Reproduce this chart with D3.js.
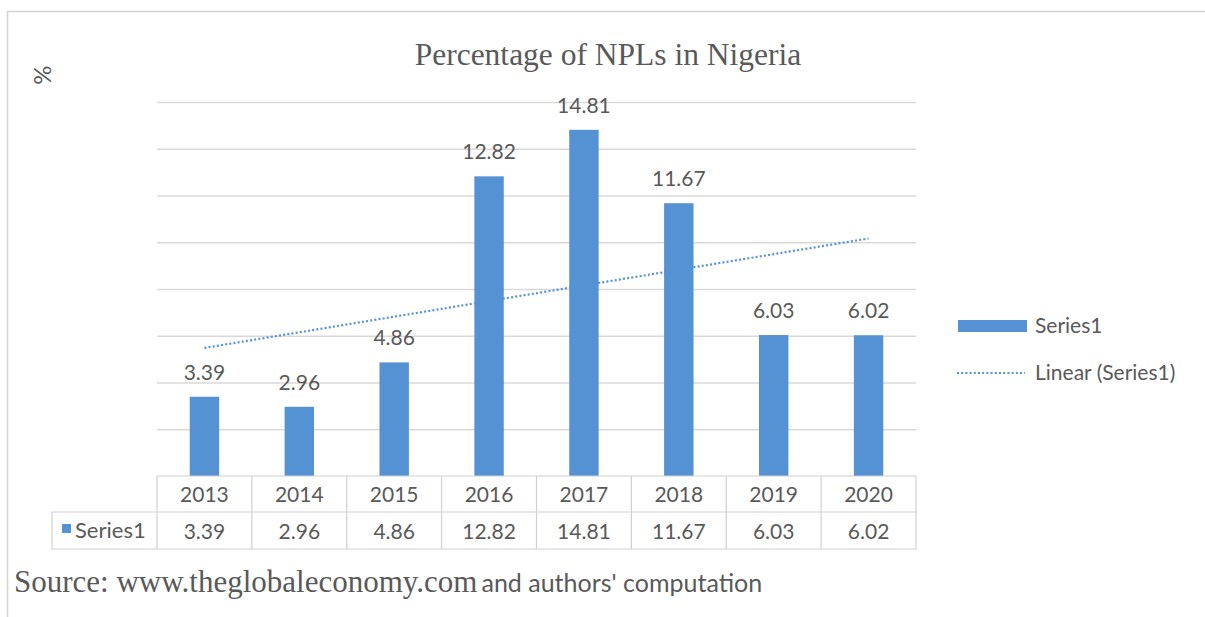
<!DOCTYPE html>
<html><head><meta charset="utf-8">
<script src="https://cdn.jsdelivr.net/npm/d3@7"></script>
<style>
html,body{margin:0;padding:0;background:#fff;}
svg{display:block;}
</style></head>
<body>
<svg id="chart" width="1205" height="617"></svg>
<script>
const categories = ["2013","2014","2015","2016","2017","2018","2019","2020"];
const values = [3.39, 2.96, 4.86, 12.82, 14.81, 11.67, 6.03, 6.02];
const valueLabels = ["3.39","2.96","4.86","12.82","14.81","11.67","6.03","6.02"];
const seriesName = "Series1";
const trendName = "Linear (Series1)";
const titleText = "Percentage of NPLs in Nigeria";
const yAxisTitle = "%";
const sourceSerif = "Source: www.theglobaleconomy.com";
const sourceSans = "and authors' computation";

const BLUE = "#5592d4";
const TXT = "#595959";
const GRID = "#d9d9d9";
const SANS = "Lato, 'Open Sans', sans-serif";
const SERIF = "'Liberation Serif', 'DejaVu Serif', serif";

const svg = d3.select("#chart");

// outer frame
svg.append("path").attr("d","M7.5,617 L7.5,11.5 L1205,11.5")
  .attr("fill","none").attr("stroke","#d4d4d4").attr("stroke-width",1.5);

const x = d3.scaleBand().domain(categories).range([157,916])
  .paddingInner(0.69).paddingOuter(0.345);
const y = d3.scaleLinear().domain([0,16]).range([476,102]);

// gridlines
const grid = svg.append("g").attr("transform","translate(157,0)")
  .call(d3.axisLeft(y).tickValues(d3.range(2,17,2)).tickSize(-759).tickFormat(""));
grid.select(".domain").remove();
grid.selectAll("line").attr("stroke",GRID).attr("stroke-width",1.3);

// bars
svg.append("g").selectAll("rect").data(values).join("rect")
  .attr("x",(d,i)=>x(categories[i]))
  .attr("width",x.bandwidth())
  .attr("y",d=>y(d))
  .attr("height",d=>y(0)-y(d))
  .attr("fill",BLUE);

// data labels
svg.append("g").selectAll("text").data(values).join("text")
  .attr("x",(d,i)=>x(categories[i])+x.bandwidth()/2)
  .attr("y",d=>y(d)-17)
  .attr("text-anchor","middle")
  .attr("font-family",SANS).attr("font-size",21).attr("fill",TXT)
  .text((d,i)=>valueLabels[i]);

// linear trendline (least squares on index)
const n = values.length;
const xs = d3.range(1,n+1);
const mx = d3.mean(xs), my = d3.mean(values);
const slope = d3.sum(xs,(xi,i)=>(xi-mx)*(values[i]-my)) / d3.sum(xs,xi=>(xi-mx)*(xi-mx));
const icpt = my - slope*mx;
const cx = i => x(categories[i])+x.bandwidth()/2;
svg.append("line")
  .attr("x1",cx(0)).attr("y1",y(icpt+slope*1))
  .attr("x2",cx(n-1)).attr("y2",y(icpt+slope*n))
  .attr("stroke",BLUE).attr("stroke-width",2.2).attr("stroke-dasharray","2,2.2");

// title
svg.append("text").attr("x",608).attr("y",65).attr("text-anchor","middle")
  .attr("font-family",SERIF).attr("font-size",31.5).attr("fill",TXT).text(titleText);

// y axis title
svg.append("text").attr("transform","translate(51,75) rotate(-90)")
  .attr("text-anchor","middle").attr("font-family",SANS).attr("font-size",24)
  .attr("fill",TXT).text(yAxisTitle);

// data table
const step = x.step();
const tbl = svg.append("g").attr("stroke","#d0d0d0").attr("stroke-width",1.2).attr("fill","none");
const r0 = 476, r1 = 512, r2 = 549, tl = 52;
tbl.append("line").attr("x1",157).attr("x2",916).attr("y1",r0).attr("y2",r0);
tbl.append("line").attr("x1",tl).attr("x2",916).attr("y1",r1).attr("y2",r1);
tbl.append("line").attr("x1",tl).attr("x2",916).attr("y1",r2).attr("y2",r2);
tbl.append("line").attr("x1",tl).attr("x2",tl).attr("y1",r1).attr("y2",r2);
tbl.selectAll(".v").data(d3.range(0,n+1)).join("line")
  .attr("x1",i=>157+i*step).attr("x2",i=>157+i*step).attr("y1",r0).attr("y2",r2);

svg.append("g").selectAll("text").data(categories).join("text")
  .attr("x",d=>x(d)+x.bandwidth()/2).attr("y",502)
  .attr("text-anchor","middle").attr("font-family",SANS).attr("font-size",21)
  .attr("fill",TXT).text(d=>d);
svg.append("g").selectAll("text").data(valueLabels).join("text")
  .attr("x",(d,i)=>cx(i)).attr("y",539)
  .attr("text-anchor","middle").attr("font-family",SANS).attr("font-size",21)
  .attr("fill",TXT).text(d=>d);
svg.append("rect").attr("x",62).attr("y",524).attr("width",9).attr("height",9).attr("fill",BLUE);
svg.append("text").attr("x",75).attr("y",538).attr("font-family",SANS).attr("font-size",22)
  .attr("fill",TXT).text(seriesName);

// legend
svg.append("rect").attr("x",958).attr("y",320).attr("width",69).attr("height",12).attr("fill",BLUE);
svg.append("text").attr("x",1035).attr("y",333).attr("font-family",SANS).attr("font-size",21)
  .attr("fill",TXT).text(seriesName);
svg.append("line").attr("x1",957).attr("x2",1025).attr("y1",373).attr("y2",373)
  .attr("stroke",BLUE).attr("stroke-width",2.2).attr("stroke-dasharray","2,2.2");
svg.append("text").attr("x",1035).attr("y",380).attr("font-family",SANS).attr("font-size",21)
  .attr("fill",TXT).text(trendName);

// source
const src = svg.append("text").attr("x",14).attr("y",592).attr("fill",TXT);
src.append("tspan").attr("font-family",SERIF).attr("font-size",31).text(sourceSerif);
src.append("tspan").attr("font-family",SANS).attr("font-size",25).attr("dx",4).text(sourceSans);
</script>
</body></html>
